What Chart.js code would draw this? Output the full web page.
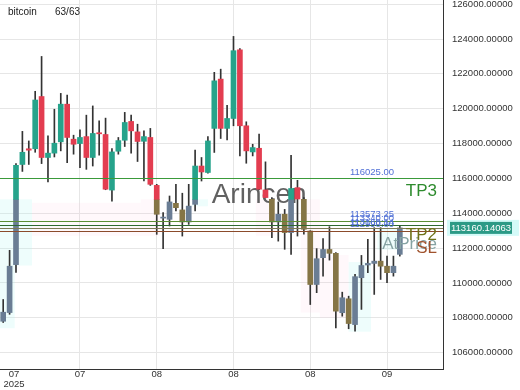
<!DOCTYPE html>
<html><head><meta charset="utf-8">
<script src="https://cdn.jsdelivr.net/npm/chart.js@4.4.1/dist/chart.umd.min.js"></script>
<style>html,body{margin:0;padding:0;background:#fff;overflow:hidden}#wrap{width:520px;height:390px;position:relative}</style>
</head><body><div id="wrap"><canvas id="c" width="520" height="390"></canvas></div>
<script>
const symbol = 'bitcoin';
const counter = '63/63';
const opens  = [107800,108300,111050,116800,117700,117700,120700,117200,117450,118100,120260,118250,118000,118400,117200,118620,118520,115330,117560,118190,119270,118670,118130,118350,115600,113720,113650,114570,114190,113500,114510,116710,116340,118870,121700,118870,119440,123380,119020,117520,117730,115340,114800,113500,113940,112890,115470,114800,112980,109910,111450,111920,111700,108290,109090,107610,110300,111030,111120,111250,110960,110590,111640];
const highs  = [109050,111870,116850,118700,118150,121000,123000,118450,119970,120880,120780,118480,118790,119630,120160,119300,119460,117710,118350,119790,119630,119110,118730,118870,115660,114040,114990,115660,115150,115660,117630,117200,118400,122090,122270,120200,124150,123450,119250,117960,118540,116950,114900,114650,114220,117330,115890,114900,113000,111970,112540,113230,111740,109470,109240,110490,111580,112500,113170,113170,111540,111540,113270];
const lows   = [107730,108200,110600,116400,116800,117500,116850,115800,117230,117580,116900,117390,116620,116520,116710,117330,115350,114700,117390,117830,117450,116970,115850,115600,112790,111970,113270,114130,112690,113360,114130,115850,116300,117490,118290,118210,119020,117290,116870,117290,115350,114880,112600,112400,111930,111640,112690,112800,108760,109440,110390,111310,107420,108090,107370,107230,108480,110590,109340,110200,110010,110390,111540];
const closes = [108320,110960,116750,117500,117620,120500,117200,117450,118020,120260,118350,117960,118350,117200,118580,118560,115380,117520,118170,119210,118730,118120,118400,115660,113940,113780,114650,114320,113500,114410,116710,116370,118150,121600,118870,119440,123330,119020,117580,117770,115380,114900,113500,113940,112890,115420,114820,113080,109910,111390,111920,111700,108380,109150,107670,110360,111000,111120,111250,110960,110590,110960,113160];
const xTickPos    = [1.7, 12, 24, 36, 48, 60];
const xTickLabels = ['07', '07', '08', '08', '08', '09'];
const yearLabel   = '2025';
const yTickValues = [106000, 108000, 110000, 112000, 114000, 116000, 118000, 120000, 122000, 124000, 126000];
const levelNames  = ['TP3', 'TP1', 'TP2', 'AtPrice', 'SL'];
const levelValues = [116025.00, 113573.25, 113340.00, 113160.14, 112990.00];
const lastPrice   = 113160.14063;
const watermark   = 'Arincen';
const mutedBelow  = 114800;
// shaded zones: candle index range and price range
const zoneFrom = [-0.5, -0.5, 4.5, 21.5, 29.5, 39.5, 46.5, 49.5, 54.0, 58.5];
const zoneTo   = [4.5, 1.8, 21.5, 24.5, 32.0, 42.5, 49.5, 54.0, 57.5, 62.5];
const zoneLow  = [111000, 107400, 112700, 112700, 114400, 112700, 108300, 108000, 107200, 111900];
const zoneHigh = [114800, 111000, 114600, 114800, 114800, 114800, 114800, 111600, 111200, 113100];
const zoneKind = ['c', 'c', 'p', 'p', 'c', 'p', 'p', 'p', 'c', 'c'];

const GREEN = '#26a38b', RED = '#e33d50', GREEN_M = '#6a7d94', RED_M = '#857546';
const idx = opens.map((_, i) => i);
const up = idx.map(i => closes[i] >= opens[i]);
const wickData = idx.map(i => ({x: i, y: [lows[i], highs[i]]}));
const upperData = idx.map(i => {
  const lo = Math.min(opens[i], closes[i]), hi = Math.max(opens[i], closes[i]);
  return {x: i, y: hi > mutedBelow ? [Math.max(lo, mutedBelow), hi] : null};
});
const lowerData = idx.map(i => {
  const lo = Math.min(opens[i], closes[i]), hi = Math.max(opens[i], closes[i]);
  return {x: i, y: lo < mutedBelow ? [lo, Math.min(hi, mutedBelow)] : null};
});

const lineColors  = ['#3a9a3a', '#5c8f35', '#2f6a2f', '#7d7a55', '#8b4b2b'];
const textColors  = {TP3: '#2e8b2e', TP2: '#6f7318', AtPrice: '#86a3a3', SL: '#a0522d'};
const textOffsets = {TP3: 5, TP2: 2, AtPrice: 8, SL: 9};
const FONT = '"Liberation Sans", Arial, sans-serif';

const overlay = {
  id: 'overlay',
  beforeDatasetsDraw(chart) {
    const {ctx, chartArea: a, scales: {x, y}} = chart;
    ctx.save();
    ctx.beginPath(); ctx.rect(a.left, a.top, a.right - a.left, a.bottom - a.top); ctx.clip();
    zoneFrom.forEach((f, k) => {
      const x0 = x.getPixelForValue(f), x1 = x.getPixelForValue(zoneTo[k]);
      const y0 = y.getPixelForValue(zoneHigh[k]), y1 = y.getPixelForValue(zoneLow[k]);
      ctx.fillStyle = zoneKind[k] === 'c' ? 'rgba(170,245,240,0.2)' : 'rgba(255,190,220,0.1)';
      ctx.fillRect(x0, y0, x1 - x0, y1 - y0);
    });
    ctx.font = '28px ' + FONT;
    ctx.fillStyle = 'rgba(80,80,80,0.9)';
    ctx.textAlign = 'center'; ctx.textBaseline = 'alphabetic';
    ctx.fillText(watermark, a.left + (a.right - a.left) * 0.585, a.top + 203);
    ctx.restore();
  },
  afterDatasetsDraw(chart) {
    const {ctx, chartArea: a, scales: {x, y}} = chart;
    ctx.save();
    levelValues.forEach((v, k) => {
      const py = Math.round(y.getPixelForValue(v)) + 0.5;
      ctx.strokeStyle = lineColors[k]; ctx.lineWidth = 1;
      ctx.beginPath(); ctx.moveTo(a.left, py); ctx.lineTo(a.right, py); ctx.stroke();
    });
    ctx.font = '9.5px ' + FONT; ctx.fillStyle = '#4f6fd6';
    ctx.textAlign = 'center'; ctx.textBaseline = 'middle';
    levelValues.forEach((v, k) => {
      ctx.fillText(v.toFixed(2), a.right - 71, y.getPixelForValue(v) - 6);
    });
    ctx.font = '17px ' + FONT; ctx.textAlign = 'right'; ctx.textBaseline = 'top';
    ['AtPrice', 'TP2', 'SL', 'TP3'].forEach(n => {
      const k = levelNames.indexOf(n);
      ctx.fillStyle = textColors[n];
      ctx.fillText(n, a.right - 6, y.getPixelForValue(levelValues[k]) + textOffsets[n]);
    });
    ctx.font = '10px ' + FONT; ctx.fillStyle = '#222'; ctx.textAlign = 'left'; ctx.textBaseline = 'middle';
    ctx.fillText(symbol, a.left + 8, a.top + 12);
    ctx.fillText(counter, a.left + 55, a.top + 12);
    ctx.restore();
    ctx.save();
    const py = y.getPixelForValue(lastPrice);
    ctx.fillStyle = 'rgba(160,245,240,0.45)';
    ctx.fillRect(a.right + 4, py - 8, 72, 16);
    ctx.fillStyle = '#2b9a86';
    ctx.fillRect(a.right + 7, py - 6, 62, 12);
    ctx.fillStyle = '#ffffff'; ctx.font = '9.5px ' + FONT;
    ctx.textAlign = 'center'; ctx.textBaseline = 'middle';
    ctx.fillText(lastPrice.toFixed(5), a.right + 38, py + 0.5);
    ctx.restore();
  }
};

new Chart(document.getElementById('c'), {
  type: 'bar',
  data: {
    datasets: [
      {data: wickData, backgroundColor: '#333333', barThickness: 1, grouped: false, order: 3},
      {data: lowerData, backgroundColor: idx.map(i => up[i] ? GREEN_M : RED_M), barThickness: 5, minBarLength: 1, grouped: false, order: 2},
      {data: upperData, backgroundColor: idx.map(i => up[i] ? GREEN : RED), barThickness: 5, minBarLength: 1, grouped: false, order: 1}
    ]
  },
  options: {
    responsive: false, animation: false, devicePixelRatio: 1,
    layout: {padding: 0},
    plugins: {legend: {display: false}, tooltip: {enabled: false}},
    scales: {
      x: {
        type: 'linear', min: -0.5, max: 68.75, offset: false,
        grid: {offset: false, drawTicks: false, color: ctx => ctx.index === 0 ? 'rgba(0,0,0,0)' : '#e6e6e6'},
        border: {display: true, color: '#333'},
        afterBuildTicks: s => { s.ticks = xTickPos.map(v => ({value: v})); },
        afterFit: s => { s.height = 21; s.paddingLeft = 0; s.paddingRight = 0; },
        ticks: {
          autoSkip: false, maxRotation: 0, padding: 1, color: '#333',
          font: {family: FONT, size: 9.5, lineHeight: 1},
          callback: (v, i) => i === 0 ? [xTickLabels[i], yearLabel] : xTickLabels[i]
        }
      },
      y: {
        type: 'linear', position: 'right', min: 105060, max: 126240,
        grid: {drawTicks: false, color: '#e6e6e6'},
        border: {display: true, color: '#333'},
        afterBuildTicks: s => { s.ticks = yTickValues.map(v => ({value: v})); },
        afterFit: s => { s.width = 77; s.paddingTop = 0; s.paddingBottom = 0; },
        ticks: {autoSkip: false, padding: 9, color: '#333', font: {family: FONT, size: 9.5},
          callback: v => Number(v).toFixed(5)}
      }
    }
  },
  plugins: [overlay]
});
</script></body></html>
